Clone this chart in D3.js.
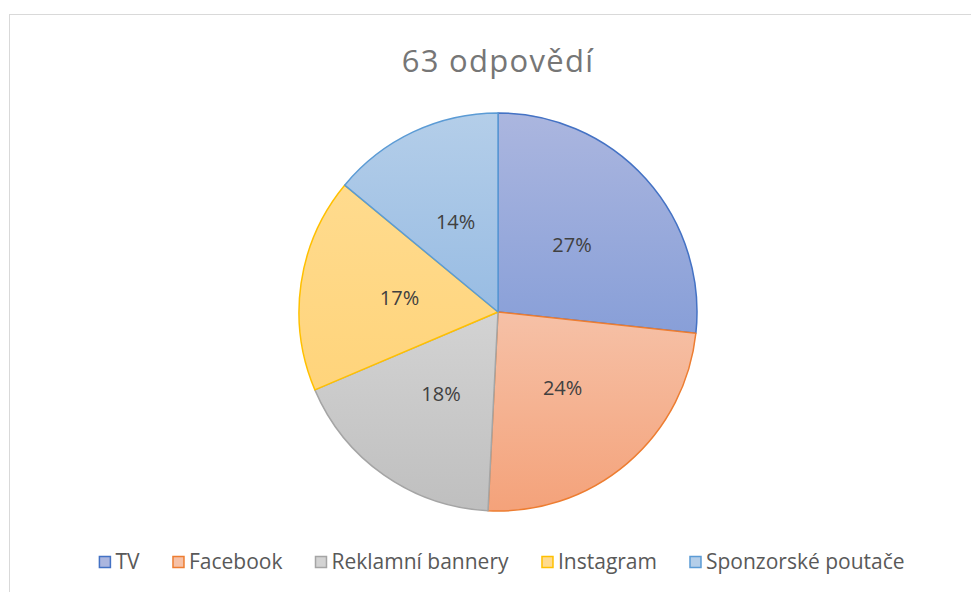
<!DOCTYPE html>
<html><head><meta charset="utf-8">
<script src="https://cdn.jsdelivr.net/npm/d3@7"></script>
<style>body{margin:0;background:#fff}svg{display:block}</style>
</head><body>
<svg id="c" width="971" height="592"></svg>
<script>
const title = "63 odpovědí";
const categories = ["TV","Facebook","Reklamní bannery","Instagram","Sponzorské poutače"];
const values = [26.7, 24.1, 17.8, 17.4, 14.0];
const labels = ["27%","24%","18%","17%","14%"];
const strokeColors = ["#4472c4","#ed7d31","#a5a5a5","#ffc000","#5b9bd5"];
const fillTop = ["#abb6df","#f6c1a7","#d3d3d3","#ffdb8e","#b4cee9"];
const fillBottom = ["#889fd8","#f4a27a","#bfbfbf","#ffd47b","#98bce3"];

const svg = d3.select("#c");
const font = "'Open Sans', sans-serif";
svg.append("rect").attr("x",9.5).attr("y",14.5).attr("width",975).attr("height",600)
  .attr("fill","#fff").attr("stroke","#d9d9d9").attr("stroke-width",1);

svg.append("text").attr("x",498).attr("y",72).attr("text-anchor","middle")
  .attr("font-family",font).attr("font-size",31).attr("letter-spacing",1.3)
  .attr("fill","#767676").text(title);

const cx = 498, cy = 312, R = 199;
const defs = svg.append("defs");
categories.forEach((c,i)=>{
  const g = defs.append("linearGradient").attr("id","g"+i).attr("x1",0).attr("y1",0).attr("x2",0).attr("y2",1);
  g.append("stop").attr("offset","0%").attr("stop-color",fillTop[i]);
  g.append("stop").attr("offset","100%").attr("stop-color",fillBottom[i]);
});
const pie = d3.pie().sort(null).value(d=>d)(values);
const arc = d3.arc().innerRadius(0).outerRadius(R);
const lab = d3.arc().innerRadius(R*0.5).outerRadius(R*0.5);
const gp = svg.append("g").attr("transform",`translate(${cx},${cy})`);
gp.selectAll("path").data(pie).join("path").attr("d",arc)
  .attr("fill",(d,i)=>`url(#g${i})`).attr("stroke",(d,i)=>strokeColors[i]).attr("stroke-width",1.5)
  .attr("stroke-linejoin","round");
gp.selectAll("text").data(pie).join("text")
  .attr("transform",d=>`translate(${lab.centroid(d)})`)
  .attr("text-anchor","middle").attr("dy","0.35em")
  .attr("font-family",font).attr("font-size",20).attr("fill","#404040")
  .text((d,i)=>labels[i]);

// legend
const lg = svg.append("g");
const items = lg.selectAll("g").data(categories).join("g");
items.append("rect").attr("width",11).attr("height",11).attr("y",-5.5)
  .attr("fill",(d,i)=>fillTop[i]).attr("stroke",(d,i)=>strokeColors[i]).attr("stroke-width",1.5);
items.append("text").attr("x",16).attr("dy","0.35em").attr("font-family",font)
  .attr("font-size",21).attr("fill","#595959").text(d=>d);
let x = 0; const gap = 33;
items.each(function(){
  const w = this.getBBox().width;
  d3.select(this).attr("transform",`translate(${x},0)`);
  x += w + gap;
});
const total = x - gap;
lg.attr("transform",`translate(${502 - total/2},562)`);
</script>
</body></html>
